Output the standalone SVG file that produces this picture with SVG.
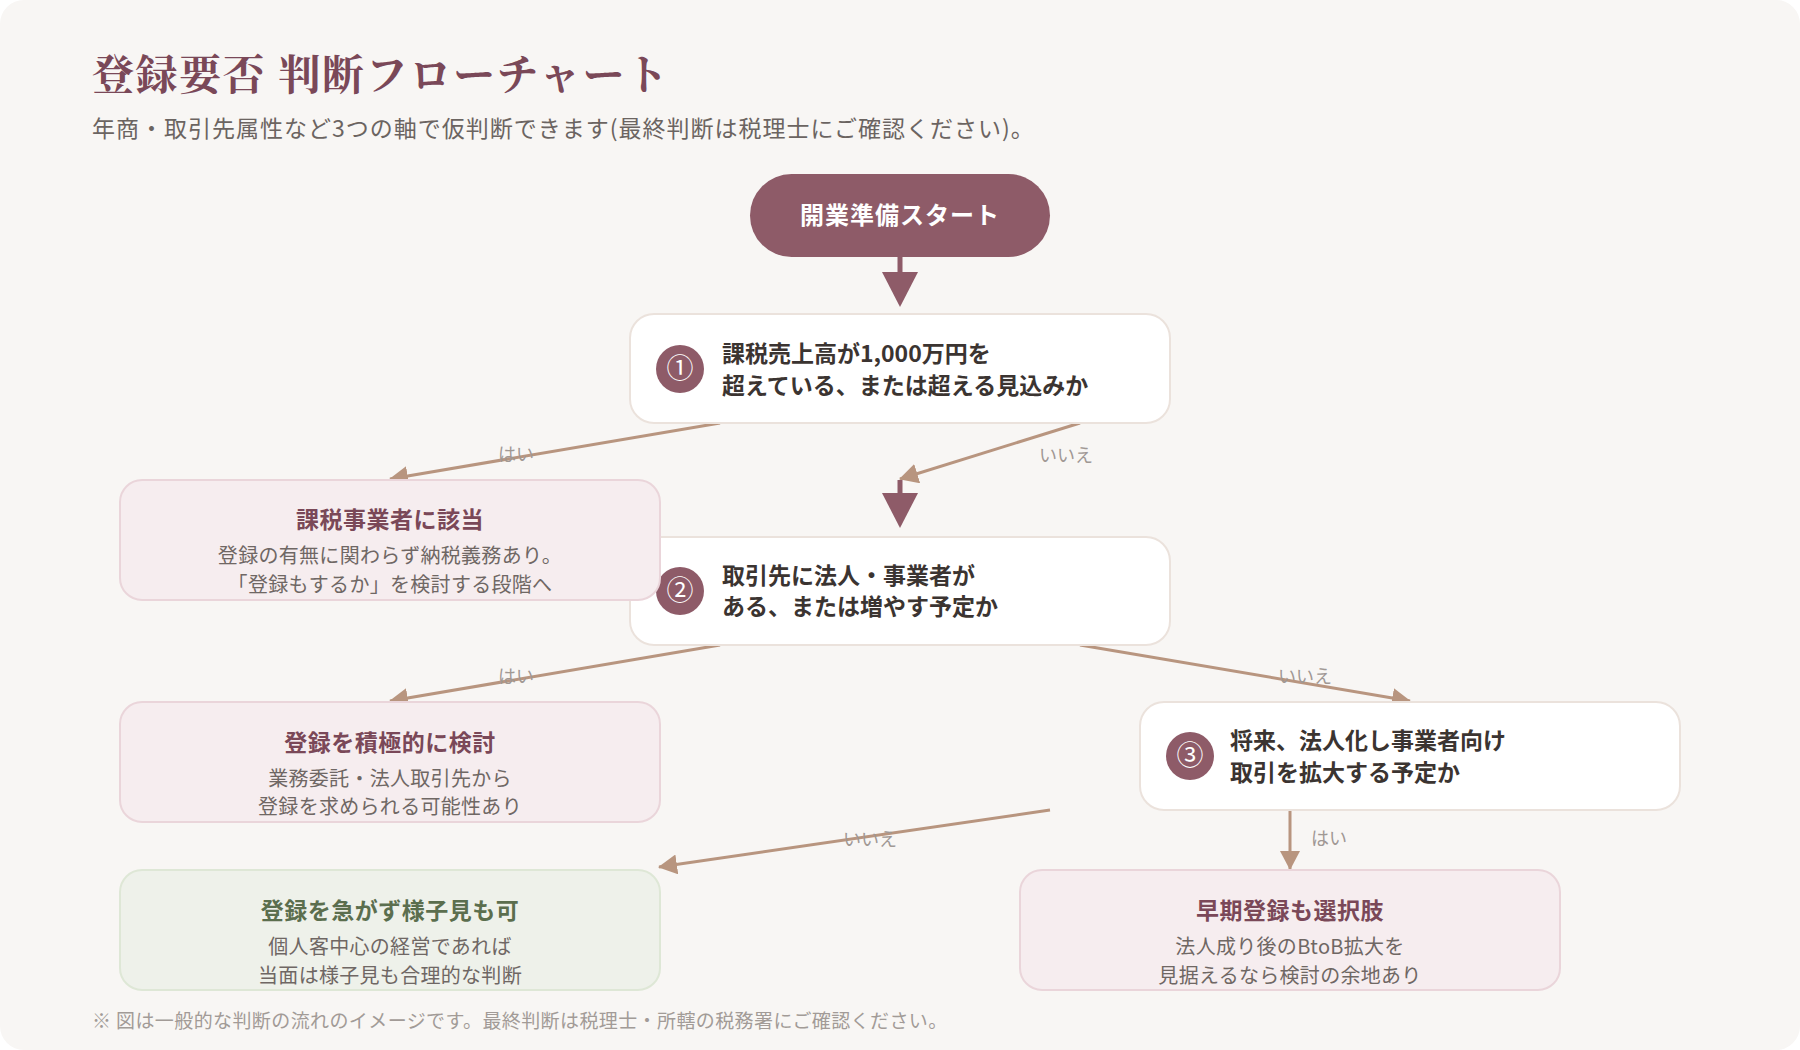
<svg xmlns="http://www.w3.org/2000/svg" width="1800" height="1050" viewBox="0 0 1800 1050">
  <defs>
    <style>
      .jp { font-family: "Noto Sans CJK JP", "Noto Sans", "Liberation Sans", sans-serif; }
      .title { font-family: "Noto Serif CJK JP", "Noto Sans CJK JP", serif; font-size: 42px; font-weight: 700; fill: #7a4858; letter-spacing: 1.6px; }
      .subtitle { font-size: 23px; fill: #6b6461; letter-spacing: 1px; }
      .footer { font-size: 19px; fill: #a29b97; letter-spacing: 0.4px; }
      .q { fill: #ffffff; stroke: #ebe2dc; stroke-width: 2; }
      .qtext { font-size: 23px; font-weight: 700; fill: #3b3431; }
      .num { fill: #8e5b68; }
      .numtext { font-size: 27px; fill: #ffffff; text-anchor: middle; }
      .rpink { fill: #f6edef; stroke: #ead5da; stroke-width: 2; }
      .rgreen { fill: #eef1ea; stroke: #dee7d6; stroke-width: 2; }
      .rtitle { font-size: 23px; font-weight: 700; fill: #7a4858; text-anchor: middle; letter-spacing: 0.5px; }
      .rtitle-g { fill: #5b6e4e; }
      .rdesc { font-size: 20px; fill: #6f6764; text-anchor: middle; letter-spacing: 0.3px; }
      .edge { fill: none; stroke: #b8957f; stroke-width: 3; marker-end: url(#tan); }
      .main { fill: none; stroke: #8e5b68; stroke-width: 5; marker-end: url(#big); }
      .lbl { font-size: 18px; fill: #a09894; text-anchor: middle; }
    </style>
    <marker id="tan" markerUnits="userSpaceOnUse" markerWidth="20" markerHeight="20" refX="18" refY="10" orient="auto">
      <path d="M0,0 L19,10 L0,20 Z" fill="#b8957f"/>
    </marker>
    <marker id="big" markerUnits="userSpaceOnUse" markerWidth="36" markerHeight="38" refX="0" refY="18" orient="auto">
      <path d="M0,0 L35,18 L0,36 Z" fill="#8e5b68"/>
    </marker>
  </defs>

  <rect x="0" y="0" width="1800" height="1050" fill="#ffffff"/>
  <rect x="0" y="0" width="1800" height="1050" rx="24" fill="#f8f6f4"/>

  <g id="header" class="jp">
    <text class="title" x="92" y="90">登録要否 判断フローチャート</text>
    <text class="subtitle jp" x="92" y="137">年商・取引先属性など3つの軸で仮判断できます(最終判断は税理士にご確認ください)。</text>
  </g>

  <g id="connectors" class="jp">
    <path class="main" d="M900,257 L900,272"/>
    <path class="edge" d="M720,423 L390,479"/>
    <text class="lbl jp" x="516" y="461">はい</text>
    <path class="edge" d="M1080,423 L900,479"/>
    <text class="lbl jp" x="1066" y="462">いいえ</text>
    <path class="main" d="M900,480 L900,493"/>
    <path class="edge" d="M720,645 L390,701"/>
    <text class="lbl jp" x="516" y="683">はい</text>
    <path class="edge" d="M1080,645 L1410,701"/>
    <text class="lbl jp" x="1305" y="683">いいえ</text>
    <path class="edge" d="M1050,810 L659,867"/>
    <text class="lbl jp" x="870" y="846">いいえ</text>
    <path class="edge" d="M1290,810 L1290,869"/>
    <text class="lbl jp" x="1329" y="845">はい</text>
  </g>

  <g id="start" class="jp">
    <rect x="750" y="174" width="300" height="83" rx="41.5" fill="#8e5b68"/>
    <text x="900" y="224" font-size="24" font-weight="700" fill="#ffffff" text-anchor="middle" letter-spacing="1">開業準備スタート</text>
  </g>

  <g id="q1" class="jp">
    <rect class="q" x="630" y="314" width="540" height="109" rx="24"/>
    <circle class="num" cx="680" cy="369" r="24"/>
    <text class="numtext jp" x="680" y="378">①</text>
    <text class="qtext jp" x="722" y="362">課税売上高が1,000万円を</text>
    <text class="qtext jp" x="722" y="394">超えている、または超える見込みか</text>
  </g>

  <g id="q2" class="jp">
    <rect class="q" x="630" y="537" width="540" height="108" rx="24"/>
    <circle class="num" cx="680" cy="591" r="24"/>
    <text class="numtext jp" x="680" y="600">②</text>
    <text class="qtext jp" x="722" y="584">取引先に法人・事業者が</text>
    <text class="qtext jp" x="722" y="615">ある、または増やす予定か</text>
  </g>

  <g id="q3" class="jp">
    <rect class="q" x="1140" y="702" width="540" height="108" rx="24"/>
    <circle class="num" cx="1190" cy="756" r="24"/>
    <text class="numtext jp" x="1190" y="765">③</text>
    <text class="qtext jp" x="1230" y="749">将来、法人化し事業者向け</text>
    <text class="qtext jp" x="1230" y="781">取引を拡大する予定か</text>
  </g>

  <g id="r1" class="jp">
    <rect class="rpink" x="120" y="480" width="540" height="120" rx="22"/>
    <text class="rtitle jp" x="390" y="528">課税事業者に該当</text>
    <text class="rdesc jp" x="390" y="563">登録の有無に関わらず納税義務あり。</text>
    <text class="rdesc jp" x="390" y="592">「登録もするか」を検討する段階へ</text>
  </g>

  <g id="r2" class="jp">
    <rect class="rpink" x="120" y="702" width="540" height="120" rx="22"/>
    <text class="rtitle jp" x="390" y="751">登録を積極的に検討</text>
    <text class="rdesc jp" x="390" y="786">業務委託・法人取引先から</text>
    <text class="rdesc jp" x="390" y="814">登録を求められる可能性あり</text>
  </g>

  <g id="r3" class="jp">
    <rect class="rgreen" x="120" y="870" width="540" height="120" rx="22"/>
    <text class="rtitle rtitle-g jp" x="390" y="919">登録を急がず様子見も可</text>
    <text class="rdesc jp" x="390" y="954">個人客中心の経営であれば</text>
    <text class="rdesc jp" x="390" y="983">当面は様子見も合理的な判断</text>
  </g>

  <g id="r4" class="jp">
    <rect class="rpink" x="1020" y="870" width="540" height="120" rx="22"/>
    <text class="rtitle jp" x="1290" y="919">早期登録も選択肢</text>
    <text class="rdesc jp" x="1290" y="954">法人成り後のBtoB拡大を</text>
    <text class="rdesc jp" x="1290" y="983">見据えるなら検討の余地あり</text>
  </g>

  <g id="footer" class="jp">
    <text class="footer jp" x="92" y="1028">※ 図は一般的な判断の流れのイメージです。最終判断は税理士・所轄の税務署にご確認ください。</text>
  </g>
</svg>
